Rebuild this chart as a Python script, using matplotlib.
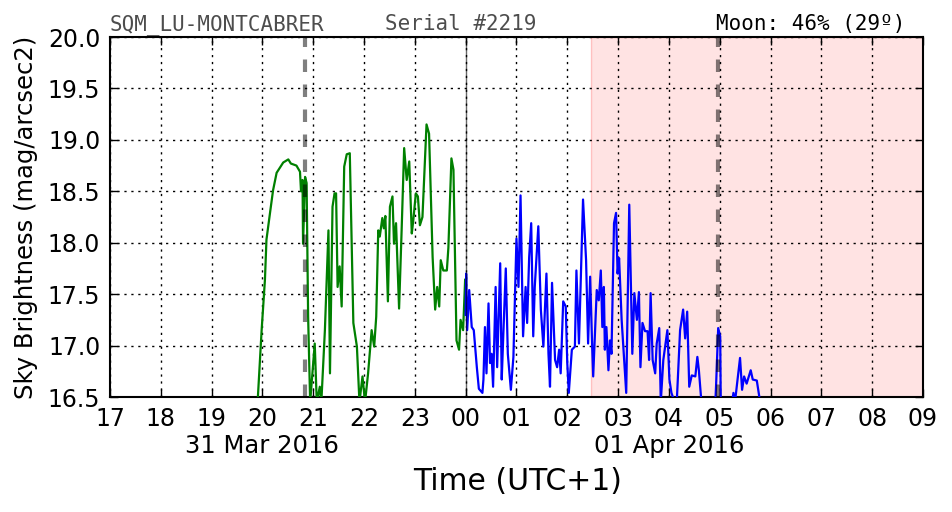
import matplotlib
matplotlib.use("Agg")
import matplotlib.pyplot as plt
import matplotlib.transforms as mtransforms

# Time in hours since 31 Mar 2016 00:00 (UTC+1); values > 24 are on 01 Apr
green_t = [19.90, 19.985, 20.05, 20.08, 20.15, 20.21, 20.28, 20.41, 20.51, 20.56, 20.67, 20.74,
           20.76, 20.79, 20.80, 20.84, 20.87, 20.90, 20.94, 21.03, 21.07, 21.13, 21.16, 21.23,
           21.30, 21.33, 21.38, 21.42, 21.45, 21.48, 21.52, 21.56, 21.61, 21.66, 21.72, 21.79,
           21.86, 21.91, 21.97, 22.02, 22.08, 22.15, 22.20, 22.24, 22.28, 22.31, 22.36, 22.39,
           22.42, 22.47, 22.51, 22.56, 22.59, 22.63, 22.69, 22.74, 22.79, 22.84, 22.89, 22.94,
           22.97, 23.02, 23.06, 23.10, 23.15, 23.23, 23.28, 23.35, 23.40, 23.44, 23.48, 23.51,
           23.56, 23.63, 23.66, 23.72, 23.76, 23.82, 23.87, 23.90, 23.95, 23.99]
green_m = [16.40, 17.15, 17.64, 18.03, 18.29, 18.51, 18.68, 18.78, 18.81, 18.77, 18.75, 18.69,
           18.50, 18.61, 17.99, 18.64, 18.58, 17.28, 16.45, 17.02, 16.45, 16.60, 16.45, 17.15,
           18.12, 16.73, 18.35, 18.48, 18.48, 17.57, 17.77, 17.38, 18.74, 18.86, 18.87, 17.22,
           16.99, 16.45, 16.70, 16.45, 16.73, 17.15, 16.99, 17.28, 18.12, 18.06, 18.24, 18.14,
           18.26, 17.43, 18.35, 18.45, 17.99, 18.19, 17.36, 18.12, 18.92, 18.61, 18.79, 18.09,
           18.22, 18.48, 18.45, 18.17, 18.25, 19.15, 19.06, 17.86, 17.35, 17.57, 17.38, 17.83,
           17.73, 17.73, 17.95, 18.82, 18.71, 17.05, 16.96, 17.25, 17.15, 17.64]

blue_t = [24.00, 24.01, 24.03, 24.07, 24.12, 24.16, 24.22, 24.26, 24.33, 24.35, 24.38, 24.41,
          24.45, 24.48, 24.51, 24.54, 24.59, 24.62, 24.68, 24.71, 24.74, 24.79, 24.83, 24.89,
          24.94, 25.00, 25.04, 25.08, 25.13, 25.18, 25.21, 25.25, 25.29, 25.33, 25.36, 25.43,
          25.48, 25.53, 25.56, 25.59, 25.63, 25.66, 25.70, 25.76, 25.80, 25.84, 25.87, 25.92,
          25.97, 26.00, 26.03, 26.09, 26.15, 26.18, 26.23, 26.26, 26.31, 26.37, 26.41, 26.45,
          26.49, 26.51, 26.58, 26.62, 26.66, 26.69, 26.72, 26.74, 26.77, 26.81, 26.84, 26.87,
          26.92, 26.96, 26.99, 27.02, 27.07, 27.16, 27.22, 27.28, 27.32, 27.37, 27.41, 27.44,
          27.48, 27.53, 27.58, 27.61, 27.64, 27.68, 27.73, 27.76, 27.81, 27.84, 27.89, 27.97,
          28.01, 28.05, 28.15, 28.22, 28.28, 28.32, 28.36, 28.40, 28.45, 28.52, 28.56, 28.59,
          28.64, 28.91, 28.93, 28.97, 29.01, 29.02, 29.23, 29.27, 29.30, 29.40, 29.44, 29.48,
          29.53, 29.61, 29.65, 29.73, 29.78, 29.85]
blue_m = [17.30, 17.70, 17.15, 17.54, 17.18, 17.15, 16.79, 16.58, 16.54, 16.67, 17.18, 16.73,
          17.41, 16.83, 16.92, 16.60, 17.57, 16.79, 17.80, 16.67, 17.09, 17.75, 16.92, 16.57,
          16.89, 18.04, 17.57, 18.46, 17.09, 17.57, 17.22, 17.86, 18.19, 17.09, 17.57, 18.16,
          17.35, 16.99, 17.35, 17.70, 16.92, 16.60, 17.61, 16.86, 16.79, 16.96, 16.73, 17.43,
          17.38, 16.83, 16.54, 16.96, 16.99, 17.73, 17.02, 17.54, 18.42, 17.83, 17.02, 17.67,
          16.99, 16.70, 17.54, 17.44, 17.73, 17.18, 17.57, 16.96, 17.18, 16.76, 17.05, 16.92,
          18.19, 18.29, 17.70, 17.85, 17.25, 16.54, 18.37, 16.92, 17.51, 17.25, 17.52, 16.79,
          17.22, 17.14, 17.14, 16.86, 17.51, 16.86, 16.73, 17.02, 17.17, 16.45, 16.86, 17.15,
          16.67, 16.54, 16.40, 17.15, 17.35, 17.07, 17.33, 16.60, 16.71, 16.70, 16.89, 16.76,
          16.45, 16.40, 16.63, 17.17, 17.09, 16.45, 16.40, 16.54, 16.45, 16.88, 16.57, 16.70,
          16.63, 16.76, 16.67, 16.66, 16.50, 16.40]

hour_ticks = list(range(17, 34))
hour_labels = ["%02d" % (h % 24) for h in hour_ticks]
date_labels = ["31 Mar 2016", "01 Apr 2016"]
date_pos = [20, 28]
y_ticks = [16.5, 17.0, 17.5, 18.0, 18.5, 19.0, 19.5, 20.0]
twilight_lines = [20.84, 28.97]
midnight = 24
moon_span = (26.46, 33)

plt.rcParams['font.family'] = ['DejaVu Sans']
fig = plt.figure(figsize=(9.52, 5.12), dpi=100)
ax = fig.add_axes([0.1155, 0.2246, 0.854, 0.7031])

ax.axvspan(moon_span[0], moon_span[1], facecolor=(1, 0, 0, 0.11), edgecolor=(1, 0, 0, 0.2), lw=1, zorder=0)
ax.plot(green_t, green_m, color='green', lw=1.6, zorder=3)
ax.plot(blue_t, blue_m, color='blue', lw=1.6, zorder=3)
for xv in twilight_lines:
    ax.axvline(xv, color='k', alpha=0.5, lw=3, linestyle=(0, (3, 3)), zorder=4)
ax.axvline(midnight, color='k', alpha=0.6, lw=1, zorder=4)

ax.set_xlim(17, 33)
ax.set_ylim(16.5, 20.0)
ax.set_xticks(hour_ticks)
ax.set_xticklabels(hour_labels)
ax.set_yticks(y_ticks)
ax.set_yticklabels(["%.1f" % v for v in y_ticks])
ax.tick_params(direction='in', top=True, right=True, length=6, width=1, labelsize=17)
ax.tick_params(axis='x', pad=7)
ax.tick_params(axis='y', pad=7)
ax.grid(True, color='k', linestyle=(0, (1.6, 3.4)), lw=1)
for s in ax.spines.values():
    s.set_linewidth(1.5)

trans = mtransforms.blended_transform_factory(ax.transData, fig.transFigure)
for p, lab in zip(date_pos, date_labels):
    ax.text(p, 1 - 446 / 512, lab, transform=trans, ha='center', va='center', fontsize=17.5)

fig.text(518 / 952, 1 - 482 / 512, "Time (UTC+1)", fontsize=21.5, ha='center', va='center')
fig.text(26 / 952, 1 - 217 / 512, "Sky Brightness (mag/arcsec2)", fontsize=17.5,
         rotation=90, ha='center', va='center')

fig.text(110 / 952, 1 - 30 / 512, "SQM_LU-MONTCABRER", family='DejaVu Sans Mono', fontsize=15,
         color='0.3', ha='left', va='baseline', zorder=10)
fig.text(385 / 952, 1 - 30 / 512, "Serial #2219", family='DejaVu Sans Mono', fontsize=15,
         color='0.3', ha='left', va='baseline', zorder=10)
fig.text(905 / 952, 1 - 30 / 512, "Moon: 46% (29º)", family='DejaVu Sans Mono', fontsize=15,
         color='k', ha='right', va='baseline', zorder=10)

fig.savefig("out.png", dpi=100)
